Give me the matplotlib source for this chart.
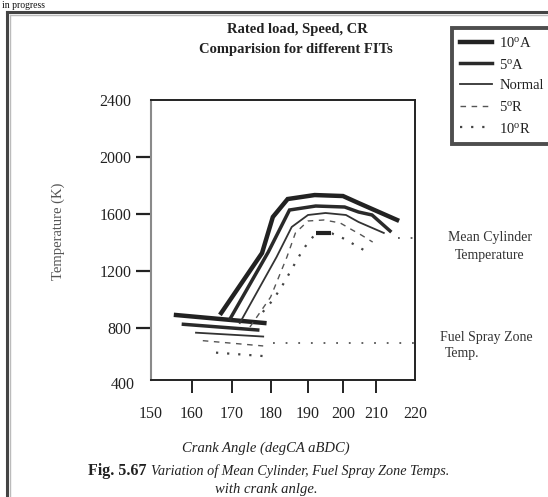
import numpy as np
import matplotlib
matplotlib.use('Agg')
import matplotlib.pyplot as plt
from matplotlib.lines import Line2D

plt.rcParams['font.family'] = ['Liberation Serif', 'DejaVu Serif']
plt.rcParams['mathtext.fontset'] = 'custom'
plt.rcParams['mathtext.rm'] = 'Liberation Serif'
plt.rcParams['mathtext.it'] = 'Liberation Serif:italic'
plt.rcParams['mathtext.bf'] = 'Liberation Serif:bold'

# ---------------- data ----------------
series_labels = ['10$^{\\rm o}$A', '5$^{\\rm o}$A', 'Normal', '5$^{\\rm o}$R', '10$^{\\rm o}$R']

x_ticks = [150, 160, 170, 180, 190, 200, 210, 220]
y_ticks = [800, 1200, 1600, 2000, 2400]
y_extra_label = 400

# Mean cylinder temperature
mean_10A_x = [167.3, 177.7, 180.5, 184.5, 191.9, 200.0, 204.7, 215.4]
mean_10A_y = [905, 1326, 1579, 1705, 1733, 1726, 1677, 1558]
mean_5A_x = [169.5, 179.3, 185.0, 192.2, 200.5, 204.7, 208.8, 213.6]
mean_5A_y = [863, 1333, 1628, 1656, 1649, 1614, 1593, 1481]
mean_N_x = [172.0, 181.5, 185.6, 190.0, 195.0, 200.9, 204.7, 212.0]
mean_N_y = [835, 1298, 1509, 1593, 1607, 1593, 1544, 1467]
mean_5R_x = [174.6, 179.9, 184.3, 186.6, 190.0, 194.6, 199.2, 202.8, 205.5, 209.0]
mean_5R_y = [807, 1017, 1298, 1467, 1551, 1558, 1537, 1488, 1453, 1403]
mean_10R_x = [177.9, 180.5, 182.9, 184.7, 186.5, 188.3, 189.2, 192.2, 196.8, 200.0, 204.6, 207.2]
mean_10R_y = [912, 996, 1090, 1172, 1254, 1335, 1370, 1464, 1464, 1430, 1370, 1335]
peak_10R_x = [192.4, 196.6]
peak_10R_y = [1464, 1464]

# Fuel spray zone temperature
fuel_10A_x = [156.1, 178.3]
fuel_10A_y = [891, 835]
fuel_5A_x = [157.9, 176.6]
fuel_5A_y = [826, 786]
fuel_N_x = [161.0, 178.0]
fuel_N_y = [767, 740]
fuel_5R_x = [162.7, 178.0]
fuel_5R_y = [711, 674]
fuel_10R_x = [166.0, 178.0]
fuel_10R_y = [627, 603]

# annotation leaders
mean_leader_x = [215.6, 221.7]
mean_leader_y = [1434, 1434]
fuel_leader_x = [180.5, 221.7]
fuel_leader_y = [697, 697]

# ---------------- figure ----------------
W, H = 548, 497
fig = plt.figure(figsize=(W / 100, H / 100), dpi=100)

ax = fig.add_axes([151 / W, 1 - 380 / H, 264 / W, 280 / H])

# non-uniform x axis, as in the original drawing
scale_deg = [150, 160, 170, 180, 190, 200, 210, 220, 230]
scale_pos = [151, 192, 232, 271, 308, 343, 376, 415, 454]

def fwd(x):
    return np.interp(x, scale_deg, scale_pos)

def inv(p):
    return np.interp(p, scale_pos, scale_deg)

ax.set_xscale('function', functions=(fwd, inv))
ax.set_xlim(150, 220)
ax.set_ylim(435, 2400)

styles = [
    dict(color='#222222', lw=3.2, ls='-'),
    dict(color='#2a2a2a', lw=2.5, ls='-'),
    dict(color='#333333', lw=1.3, ls='-'),
    dict(color='#555555', lw=1.0, ls=(0, (4, 4))),
    dict(color='#444444', lw=1.6, ls=(0, (1, 4))),
]
mean_sets = [(mean_10A_x, mean_10A_y), (mean_5A_x, mean_5A_y), (mean_N_x, mean_N_y),
             (mean_5R_x, mean_5R_y), (mean_10R_x, mean_10R_y)]
fuel_sets = [(fuel_10A_x, fuel_10A_y), (fuel_5A_x, fuel_5A_y), (fuel_N_x, fuel_N_y),
             (fuel_5R_x, fuel_5R_y), (fuel_10R_x, fuel_10R_y)]

for st, (mx, my), (fx, fy) in zip(styles, mean_sets, fuel_sets):
    ax.plot(mx, my, solid_joinstyle='miter', **st)
    ax.plot(fx, fy, **st)

ax.plot(peak_10R_x, peak_10R_y, color='#222222', lw=3.0, solid_capstyle='butt')

leader_style = dict(color='#555555', lw=1.3, ls=(0, (1, 6)), clip_on=False)
ax.plot(mean_leader_x, mean_leader_y, **leader_style)
ax.plot(fuel_leader_x, fuel_leader_y, **leader_style)

# ticks
ax.set_xticks(x_ticks)
ax.set_xticklabels([str(v) for v in x_ticks])
ax.set_yticks(y_ticks)
ax.set_yticklabels([str(v) for v in y_ticks])
ax.tick_params(axis='x', direction='out', length=9, width=1.4, pad=10,
               labelsize=11.5, colors='#222222')
ax.tick_params(axis='y', direction='out', length=11, width=1.6, pad=3,
               labelsize=11.5, colors='#222222')
xt = ax.xaxis.get_major_ticks()
xt[0].tick1line.set_visible(False)
xt[-1].tick1line.set_visible(False)
ax.yaxis.get_major_ticks()[-1].tick1line.set_visible(False)
ax.text(-0.06, y_extra_label, str(y_extra_label), transform=ax.get_yaxis_transform(),
        ha='right', va='center', fontsize=11.5, color='#222222', clip_on=False)

for side in ['top', 'right', 'bottom']:
    ax.spines[side].set_color('#222222')
    ax.spines[side].set_linewidth(1.4)
ax.spines['left'].set_color('#8a8a8a')
ax.spines['left'].set_linewidth(1.5)

ax.set_ylabel('Temperature (K)', fontsize=10.5, color='#555555')
ax.yaxis.set_label_coords(-0.325, 0.53)

# titles and annotations
fig.text(297 / W, 1 - 30 / H, 'Rated load, Speed, CR', ha='center', va='center',
         fontsize=10.5, fontweight='bold', color='#222222')
fig.text(296 / W, 1 - 50 / H, 'Comparision for different FITs', ha='center', va='center',
         fontsize=10.5, fontweight='bold', color='#222222')

fig.text(490 / W, 1 - 237 / H, 'Mean Cylinder', ha='center', va='center', fontsize=10, color='#333333')
fig.text(490 / W, 1 - 255 / H, 'Temperature', ha='center', va='center', fontsize=10, color='#333333')
fig.text(486 / W, 1 - 337 / H, 'Fuel Spray Zone', ha='center', va='center', fontsize=10, color='#333333')
fig.text(462 / W, 1 - 354 / H, 'Temp.', ha='center', va='center', fontsize=10, color='#333333')

fig.text(266 / W, 1 - 448 / H, 'Crank Angle (degCA aBDC)', ha='center', va='center',
         fontsize=10.5, style='italic', color='#222222')
fig.text(147 / W, 1 - 471 / H, 'Fig. 5.67', ha='right', va='center',
         fontsize=11.5, fontweight='bold', color='#222222')
fig.text(151 / W, 1 - 471 / H, 'Variation of Mean Cylinder, Fuel Spray Zone Temps.',
         ha='left', va='center', fontsize=10.2, style='italic', color='#222222')
fig.text(266 / W, 1 - 490 / H, 'with crank anlge.', ha='center', va='center',
         fontsize=10.5, style='italic', color='#222222')

# legend
handles = [Line2D([], [], **st) for st in styles]
leg = fig.legend(handles, series_labels, loc='upper left',
                 bbox_to_anchor=(452 / W, 1 - 28 / H), fontsize=10.5,
                 frameon=True, fancybox=False, handlelength=2.2,
                 handletextpad=0.5, labelspacing=0.52, borderpad=0.55,
                 borderaxespad=0)
leg.get_frame().set_edgecolor('#222222')
leg.get_frame().set_linewidth(2.8)
for t in leg.get_texts():
    t.set_color('#222222')

# page frame and header text
fig.add_artist(Line2D([7 / W, 7 / W], [0, 1 - 12 / H], color='#444444', lw=2.2))
fig.add_artist(Line2D([7 / W, 1], [1 - 12 / H, 1 - 12 / H], color='#444444', lw=2.2))
fig.add_artist(Line2D([10 / W, 10 / W], [0, 1 - 15 / H], color='#bbbbbb', lw=1.0))
fig.add_artist(Line2D([10 / W, 1], [1 - 15 / H, 1 - 15 / H], color='#bbbbbb', lw=1.0))
fig.text(2 / W, 1 - 1 / H, 'in progress', ha='left', va='top', fontsize=7, color='#111111')

fig.savefig('out.png', dpi=100)
